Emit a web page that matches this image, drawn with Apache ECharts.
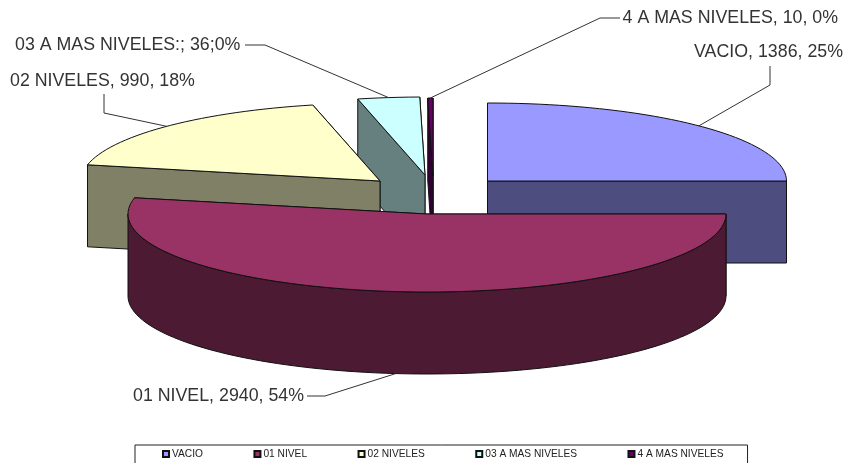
<!DOCTYPE html>
<html>
<head>
<meta charset="utf-8">
<title>Niveles</title>
<style>
  html, body { margin: 0; padding: 0; background: #fff; }
  #main { width: 847px; height: 463px; }
</style>
<script src="https://cdn.jsdelivr.net/npm/echarts@6/dist/echarts.min.js"></script>
</head>
<body>
<div id="main"></div>
<script>
// categories and what the labels print
const categories = ['VACIO', '01 NIVEL', '02 NIVELES', '03 A MAS NIVELES', '4 A MAS NIVELES'];
const labelTexts = [
  'VACIO, 1386, 25%',
  '01 NIVEL, 2940, 54%',
  '02 NIVELES, 990, 18%',
  '03 A MAS NIVELES:; 36;0%',
  '4 A MAS NIVELES, 10, 0%'
];
// share of the circle each slice really takes in the picture (%).
// the printed 36 and 10 are much smaller than what is drawn
const sliceShares = [25, 53.33, 18.06, 3.33, 0.28];

const topColors = ['#9999ff', '#993366', '#ffffcc', '#ccffff', '#660066'];
const wallColors = ['#4d4d80', '#4d1a33', '#808066', '#668080', '#330033'];

// pie geometry
const rx = 299, ry = 78, depth = 82;
const centers = [[487.5, 181], [427, 214], [380, 181], [425, 175], [433, 176]];
const drawOrder = [4, 3, 2, 0, 1]; // back to front

// label placement: text anchor, elbow of the leader
const labelLayout = [
  { x: 843, y: 52, align: 'right', line: [[770, 66], [770, 85]] },
  { x: 133, y: 396, align: 'left', line: [[307, 396], [325, 396]] },
  { x: 10, y: 81, align: 'left', line: [[104, 94], [104, 113]] },
  { x: 15, y: 45, align: 'left', line: [[245, 45], [265, 45]] },
  { x: 838, y: 18, align: 'right', line: [[620, 18], [600, 18]] }
];

const total = sliceShares.reduce((a, b) => a + b, 0);
const startAngles = [];
sliceShares.reduce((acc, v, i) => {
  startAngles[i] = acc;
  return acc + v / total * 360;
}, 0);

// angle in degrees clockwise from 12 o'clock
function project(c, deg, dz) {
  const a = deg * Math.PI / 180;
  return [c[0] + rx * Math.sin(a), c[1] - ry * Math.cos(a) + (dz || 0)];
}

function arcPoints(c, from, to, dz) {
  const pts = [];
  const n = Math.max(2, Math.ceil((to - from) / 2));
  for (let i = 0; i <= n; i++) pts.push(project(c, from + (to - from) * i / n, dz));
  return pts;
}

function face(points, fill) {
  return {
    type: 'polygon',
    shape: { points: points },
    style: { fill: fill, stroke: '#111', lineWidth: 1 },
    silent: true
  };
}

function radialFace(c, deg, fill) {
  const p = project(c, deg);
  return face([[c[0], c[1]], p, [p[0], p[1] + depth], [c[0], c[1] + depth]], fill);
}

function renderSlice(params, api) {
  const i = params.seriesIndex;
  const c = centers[i];
  const from = startAngles[i];
  const to = from + api.value(0) / total * 360;
  const mid = (from + to) / 2;
  const children = [];

  children.push(radialFace(c, to, wallColors[i]));
  children.push(radialFace(c, from, wallColors[i]));

  // front rim only exists between 3 and 9 o'clock
  const rimFrom = Math.max(from, 90), rimTo = Math.min(to, 270);
  if (rimTo > rimFrom) {
    const upper = arcPoints(c, rimFrom, rimTo, 0);
    const lower = arcPoints(c, rimFrom, rimTo, depth).reverse();
    children.push(face(upper.concat(lower), wallColors[i]));
  }

  children.push(face([[c[0], c[1]]].concat(arcPoints(c, from, to, 0)), topColors[i]));

  // leader ends on the outer edge at the slice middle
  const onFront = mid > 90 && mid < 270;
  const layout = labelLayout[i];
  children.push({
    type: 'polyline',
    shape: { points: layout.line.concat([project(c, mid, onFront ? depth : 0)]) },
    style: { fill: null, stroke: '#333', lineWidth: 1 },
    silent: true
  });
  children.push({
    type: 'text',
    style: {
      text: labelTexts[i],
      x: layout.x,
      y: layout.y,
      align: layout.align,
      verticalAlign: 'middle',
      font: '17.8px "Liberation Sans", Arial, sans-serif',
      fill: '#333'
    },
    silent: true
  });
  return { type: 'group', children: children };
}

const chart = echarts.init(document.getElementById('main'), null, { renderer: 'canvas' });
chart.setOption({
  animation: false,
  backgroundColor: '#fff',
  legend: {
    data: categories,
    left: 135,
    top: 445,
    orient: 'horizontal',
    padding: [4, 24, 8, 27],
    itemGap: 50.5,
    itemWidth: 6,
    itemHeight: 6,
    icon: 'rect',
    borderColor: '#222',
    borderWidth: 1,
    selectedMode: false,
    textStyle: {
      fontFamily: '"Liberation Sans", Arial, sans-serif',
      fontSize: 10.2,
      color: '#222',
      padding: [0, 0, 0, -2]
    }
  },
  series: categories.map((name, i) => ({
    type: 'custom',
    name: name,
    coordinateSystem: 'none',
    z: 2 + drawOrder.indexOf(i),
    itemStyle: { color: topColors[i], borderColor: '#111', borderWidth: 1 },
    renderItem: renderSlice,
    data: [[sliceShares[i]]]
  }))
});
</script>
</body>
</html>
